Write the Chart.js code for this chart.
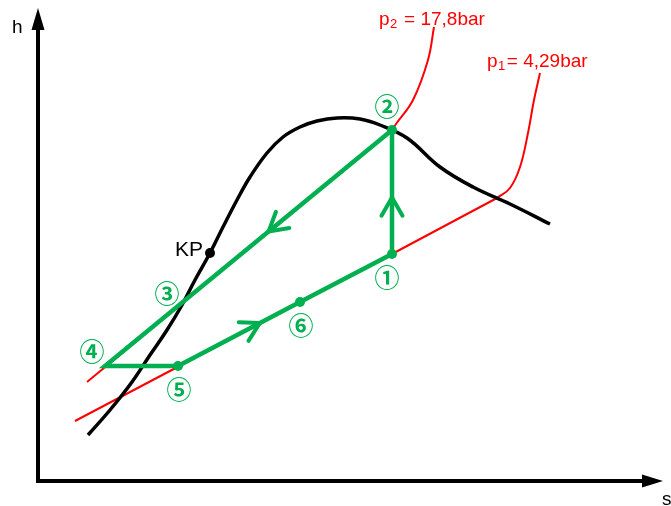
<!DOCTYPE html>
<html>
<head>
<meta charset="utf-8">
<title>h-s Diagramm</title>
<script src="https://cdn.jsdelivr.net/npm/chart.js@4"></script>
<style>
  html, body { margin: 0; padding: 0; background: #fff; }
  #wrap { width: 671px; height: 506px; }
</style>
</head>
<body>
<div id="wrap"><canvas id="hs"></canvas></div>
<script>
// Saturation curve (s, h) in diagram units, origin at the axis corner
const satS = [50, 72, 94, 112, 129, 144, 157, 172, 185, 199, 212, 229, 245, 262, 279, 299, 322, 342, 369, 402, 435, 472, 512];
const satH = [46, 71, 99, 126, 151, 176, 201, 228, 254, 281, 304, 328, 344, 354, 360, 363, 362, 356, 343, 314, 294, 277, 257];

// Critical point
const kpS = [172];
const kpH = [228];

// Isobar p2 = 17,8 bar: straight two-phase part, then superheated part
const p2LineS = [49, 354];
const p2LineH = [99, 351];
const p2CurveS = [354, 358, 375, 390, 396];
const p2CurveH = [351, 357, 381, 421, 454];

// Isobar p1 = 4,29 bar
const p1LineS = [37, 354, 459];
const p1LineH = [60, 227, 283];
const p1CurveS = [459, 472, 482, 490, 496, 502];
const p1CurveH = [283, 293, 314, 348, 381, 408];

// Cycle states 1 -> 2 -> 4 -> 5 -> 6 -> 1
const cycleNames = ['1', '2', '4', '5', '6', '1'];
const cycleS = [354, 354, 67, 140, 262, 354];
const cycleH = [227, 351, 115, 115, 179, 227];
const cycleDot = [true, true, false, true, true, false];

// Direction arrows: segment index in the cycle and position along it
const arrowSeg = [0, 1, 3];
const arrowPos = [0.455, 0.43, 0.67];

// Axis extents (arrow tips)
const axisTopH = 473;
const axisRightS = 625;

const GREEN = '#00B050';
const RED = '#FF0000';

function pts(xs, ys) {
    return xs.map((x, i) => ({ x: x, y: ys[i] }));
}

const stateLabels = [
    { text: '\u2460', s: 349, h: 204 },
    { text: '\u2461', s: 349, h: 375 },
    { text: '\u2462', s: 129, h: 188 },
    { text: '\u2463', s: 54, h: 130 },
    { text: '\u2464', s: 141, h: 92 },
    { text: '\u2465', s: 263, h: 156 }
];

const hsDiagram = {
    id: 'hsDiagram',
    beforeDatasetsDraw(chart) {
        const c = chart.ctx;
        const x = chart.scales.x, y = chart.scales.y;
        const x0 = x.getPixelForValue(0), y0 = y.getPixelForValue(0);
        const yt = y.getPixelForValue(axisTopH), xr = x.getPixelForValue(axisRightS);
        c.save();
        c.strokeStyle = '#000';
        c.fillStyle = '#000';
        c.lineWidth = 4;
        c.lineCap = 'square';
        c.beginPath();
        c.moveTo(x0, yt + 20);
        c.lineTo(x0, y0);
        c.lineTo(xr - 20, y0);
        c.stroke();
        // arrow heads
        c.beginPath();
        c.moveTo(x0, yt);
        c.lineTo(x0 - 6.5, yt + 22);
        c.lineTo(x0 + 6.5, yt + 22);
        c.closePath();
        c.fill();
        c.beginPath();
        c.moveTo(xr, y0);
        c.lineTo(xr - 21, y0 - 6.5);
        c.lineTo(xr - 21, y0 + 6.5);
        c.closePath();
        c.fill();
        c.font = '19px "Liberation Sans", Arial, sans-serif';
        c.textBaseline = 'alphabetic';
        c.textAlign = 'left';
        c.fillText('h', 12, 33);
        c.fillText('s', 662, 505);
        c.restore();
    },
    afterDatasetsDraw(chart) {
        const c = chart.ctx;
        const x = chart.scales.x, y = chart.scales.y;
        c.save();

        // chevrons showing flow direction
        c.strokeStyle = GREEN;
        c.lineWidth = 4;
        c.lineCap = 'round';
        c.lineJoin = 'round';
        arrowSeg.forEach((seg, i) => {
            const ax = x.getPixelForValue(cycleS[seg]), ay = y.getPixelForValue(cycleH[seg]);
            const bx = x.getPixelForValue(cycleS[seg + 1]), by = y.getPixelForValue(cycleH[seg + 1]);
            const len = Math.hypot(bx - ax, by - ay);
            const dx = (bx - ax) / len, dy = (by - ay) / len;
            const tx = ax + (bx - ax) * arrowPos[i], ty = ay + (by - ay) * arrowPos[i];
            const L = 21, a = Math.PI / 6;
            c.beginPath();
            c.moveTo(tx - L * (dx * Math.cos(a) - dy * Math.sin(a)), ty - L * (dy * Math.cos(a) + dx * Math.sin(a)));
            c.lineTo(tx, ty);
            c.lineTo(tx - L * (dx * Math.cos(a) + dy * Math.sin(a)), ty - L * (dy * Math.cos(a) - dx * Math.sin(a)));
            c.stroke();
        });

        // state numbers
        c.fillStyle = GREEN;
        c.font = 'bold 25px "Noto Sans CJK JP", "DejaVu Sans", sans-serif';
        c.textAlign = 'center';
        c.textBaseline = 'middle';
        stateLabels.forEach(l => {
            c.fillText(l.text, x.getPixelForValue(l.s), y.getPixelForValue(l.h));
        });

        // critical point
        c.fillStyle = '#000';
        c.font = '21px "Liberation Sans", Arial, sans-serif';
        c.textAlign = 'right';
        c.textBaseline = 'alphabetic';
        c.fillText('KP', x.getPixelForValue(kpS[0]) - 7, y.getPixelForValue(kpH[0]) + 3);

        // isobar labels with subscripts
        c.fillStyle = RED;
        c.textAlign = 'left';
        const isoLabel = (px, base, sub, rest) => {
            c.font = '19px "Liberation Sans", Arial, sans-serif';
            c.fillText('p', px, base);
            const pw = c.measureText('p').width;
            c.font = '13px "Liberation Sans", Arial, sans-serif';
            c.fillText(sub, px + pw + 0.5, base + 3);
            const sw = c.measureText(sub).width;
            c.font = '19px "Liberation Sans", Arial, sans-serif';
            c.fillText(rest, px + pw + sw + 2, base);
        };
        isoLabel(379, 25, '2', ' = 17,8bar');
        isoLabel(487, 67, '1', '= 4,29bar');
        c.restore();
    }
};

new Chart(document.getElementById('hs').getContext('2d'), {
    type: 'line',
    data: {
        datasets: [
            {
                label: 'Kreisprozess',
                data: pts(cycleS, cycleH),
                borderColor: GREEN,
                backgroundColor: GREEN,
                borderWidth: 4.5,
                tension: 0,
                pointRadius: cycleDot.map(d => d ? 5 : 0),
                pointBorderWidth: 0,
                order: 0
            },
            {
                label: 'KP',
                data: pts(kpS, kpH),
                showLine: false,
                pointRadius: 5,
                pointBorderWidth: 0,
                backgroundColor: '#000',
                order: 0
            },
            {
                label: 'Grenzkurve',
                data: pts(satS, satH),
                borderColor: '#000',
                borderWidth: 3.5,
                tension: 0.4,
                pointRadius: 0,
                order: 1
            },
            {
                label: 'p2',
                data: pts(p2LineS, p2LineH),
                borderColor: RED,
                borderWidth: 2,
                tension: 0,
                pointRadius: 0,
                order: 2
            },
            {
                label: 'p2 ueberhitzt',
                data: pts(p2CurveS, p2CurveH),
                borderColor: RED,
                borderWidth: 2,
                tension: 0.4,
                pointRadius: 0,
                order: 2
            },
            {
                label: 'p1',
                data: pts(p1LineS, p1LineH),
                borderColor: RED,
                borderWidth: 2,
                tension: 0,
                pointRadius: 0,
                order: 2
            },
            {
                label: 'p1 ueberhitzt',
                data: pts(p1CurveS, p1CurveH),
                borderColor: RED,
                borderWidth: 2,
                tension: 0.4,
                pointRadius: 0,
                order: 2
            }
        ]
    },
    options: {
        responsive: true,
        maintainAspectRatio: false,
        animation: false,
        layout: {
            padding: 0,
            autoPadding: false
        },
        plugins: {
            legend: {
                display: false
            },
            tooltip: {
                enabled: false
            }
        },
        scales: {
            x: {
                type: 'linear',
                min: -38,
                max: 633,
                display: false
            },
            y: {
                type: 'linear',
                min: -25,
                max: 481,
                display: false
            }
        }
    },
    plugins: [hsDiagram]
});
</script>
</body>
</html>
